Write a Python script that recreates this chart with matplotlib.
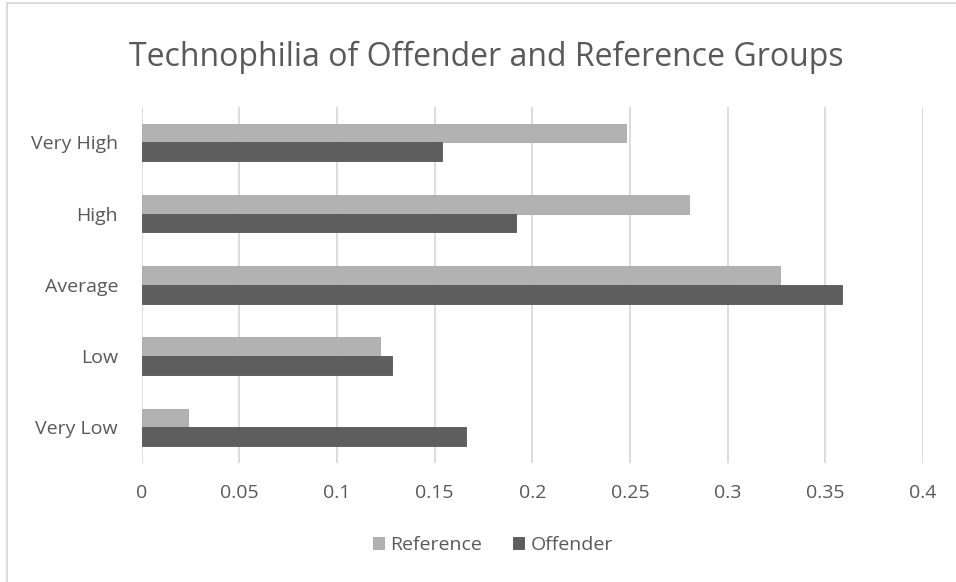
import matplotlib
matplotlib.use("Agg")
import matplotlib.pyplot as plt
from matplotlib.lines import Line2D
import numpy as np

categories = ["Very High", "High", "Average", "Low", "Very Low"]
reference = [0.248, 0.280, 0.327, 0.122, 0.0236]
offender = [0.1537, 0.1916, 0.3586, 0.1282, 0.1661]
x_ticks = [0, 0.05, 0.1, 0.15, 0.2, 0.25, 0.3, 0.35, 0.4]
x_tick_labels = ["0", "0.05", "0.1", "0.15", "0.2", "0.25", "0.3", "0.35", "0.4"]

REF_COLOR = "#b2b2b2"
OFF_COLOR = "#5e5e5e"
TEXT_COLOR = "#595959"
GRID_COLOR = "#d9d9d9"
FONT = ["Open Sans", "DejaVu Sans"]

fig = plt.figure(figsize=(9.56, 5.82), dpi=100)
fig.patch.set_facecolor("white")
ax = fig.add_axes([141.7 / 956, 1 - 463 / 582, (923 - 141.7) / 956, (463 - 106.7) / 582])

y = np.arange(len(categories))
h = 0.262
ax.barh(y - h / 2, reference, height=h, color=REF_COLOR, edgecolor="#a8a8a8", linewidth=0.6,
        label="Reference", zorder=3)
ax.barh(y + h / 2, offender, height=h, color=OFF_COLOR, edgecolor="#555555", linewidth=0.6,
        label="Offender", zorder=3)

ax.set_ylim(len(categories) - 0.5, -0.5)
ax.set_xlim(0, 0.4)
ax.set_yticks(y)
ax.set_yticklabels(categories)
ax.set_xticks(x_ticks)
ax.set_xticklabels(x_tick_labels)
ax.tick_params(axis="both", length=0, colors=TEXT_COLOR, labelsize=14)
ax.tick_params(axis="y", pad=17)
ax.tick_params(axis="x", pad=15)
for lab in ax.get_xticklabels() + ax.get_yticklabels():
    lab.set_family(FONT)

ax.grid(axis="x", color=GRID_COLOR, linewidth=1.3, zorder=0)
for s in ax.spines.values():
    s.set_visible(False)
ax.set_axisbelow(True)

fig.text(486.5 / 956, 1 - 57 / 582, "Technophilia of Offender and Reference Groups",
         ha="center", va="center", fontsize=23, color=TEXT_COLOR, family=FONT)

leg = fig.legend(loc="center", bbox_to_anchor=(493 / 956, 1 - 545 / 582), ncol=2, frameon=False,
                 handlelength=0.55, handleheight=0.55, handletextpad=0.35,
                 columnspacing=1.6, prop={"family": FONT, "size": 14})
for t in leg.get_texts():
    t.set_color(TEXT_COLOR)

# thin frame along the top and left edges of the chart area
fig.add_artist(Line2D([7 / 956, 7 / 956], [0, 1 - 3 / 582], transform=fig.transFigure,
                      color=GRID_COLOR, linewidth=1.3))
fig.add_artist(Line2D([7 / 956, 1], [1 - 3 / 582, 1 - 3 / 582], transform=fig.transFigure,
                      color=GRID_COLOR, linewidth=1.3))

fig.savefig("out.png", dpi=100, facecolor="white")
